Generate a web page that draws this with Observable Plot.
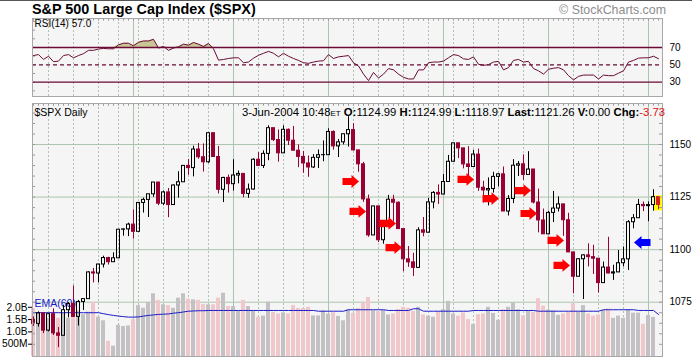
<!DOCTYPE html>
<html><head><meta charset="utf-8">
<script src="https://cdn.jsdelivr.net/npm/d3@7"></script>
<script src="https://cdn.jsdelivr.net/npm/@observablehq/plot@0.6"></script>
<style>
body{margin:0;background:#fff;}
#root{position:relative;width:692px;height:358px;overflow:hidden;background:#fff;font-family:"Liberation Sans",Arial,sans-serif;}
.abs{position:absolute;}
.abs svg{display:block;}
</style></head><body><div id="root"></div>
<script>
// ---------- DATA ----------
const dates = [
"2003-12-03","2003-12-04","2003-12-05","2003-12-08","2003-12-09","2003-12-10","2003-12-11","2003-12-12","2003-12-15","2003-12-16","2003-12-17","2003-12-18","2003-12-19","2003-12-22","2003-12-23","2003-12-24","2003-12-26","2003-12-29","2003-12-30","2003-12-31",
"2004-01-02","2004-01-05","2004-01-06","2004-01-07","2004-01-08","2004-01-09","2004-01-12","2004-01-13","2004-01-14","2004-01-15","2004-01-16","2004-01-20","2004-01-21","2004-01-22","2004-01-23","2004-01-26","2004-01-27","2004-01-28","2004-01-29","2004-01-30",
"2004-02-02","2004-02-03","2004-02-04","2004-02-05","2004-02-06","2004-02-09","2004-02-10","2004-02-11","2004-02-12","2004-02-13","2004-02-17","2004-02-18","2004-02-19","2004-02-20","2004-02-23","2004-02-24","2004-02-25","2004-02-26","2004-02-27",
"2004-03-01","2004-03-02","2004-03-03","2004-03-04","2004-03-05","2004-03-08","2004-03-09","2004-03-10","2004-03-11","2004-03-12","2004-03-15","2004-03-16","2004-03-17","2004-03-18","2004-03-19","2004-03-22","2004-03-23","2004-03-24","2004-03-25","2004-03-26","2004-03-29","2004-03-30","2004-03-31",
"2004-04-01","2004-04-02","2004-04-05","2004-04-06","2004-04-07","2004-04-08","2004-04-12","2004-04-13","2004-04-14","2004-04-15","2004-04-16","2004-04-19","2004-04-20","2004-04-21","2004-04-22","2004-04-23","2004-04-26","2004-04-27","2004-04-28","2004-04-29","2004-04-30",
"2004-05-03","2004-05-04","2004-05-05","2004-05-06","2004-05-07","2004-05-10","2004-05-11","2004-05-12","2004-05-13","2004-05-14","2004-05-17","2004-05-18","2004-05-19","2004-05-20","2004-05-21","2004-05-24","2004-05-25","2004-05-26","2004-05-27","2004-05-28",
"2004-06-01","2004-06-02","2004-06-03"];

const closes = [
1064.73,1069.72,1061.50,1069.30,1060.18,1059.05,1071.21,1074.14,1068.04,1075.13,1076.48,1089.18,1088.66,1092.94,1096.02,1094.04,1095.89,1109.48,1109.64,1111.92,
1108.48,1122.22,1123.67,1126.33,1131.92,1121.86,1127.23,1121.22,1130.52,1132.05,1139.83,1138.77,1147.62,1143.94,1141.55,1155.37,1144.05,1128.48,1134.11,1131.13,
1135.26,1136.03,1126.52,1128.59,1142.76,1139.81,1145.54,1157.76,1152.11,1145.81,1156.99,1151.82,1147.06,1144.11,1140.99,1139.09,1143.67,1144.91,1144.94,
1155.97,1149.10,1151.03,1154.87,1156.86,1147.20,1140.58,1123.89,1106.78,1120.57,1104.49,1110.70,1123.75,1122.32,1109.78,1095.40,1093.95,1091.33,1109.19,1108.06,1122.47,1127.00,1126.21,
1132.17,1141.81,1150.57,1148.16,1140.53,1139.32,1145.20,1129.44,1128.17,1128.84,1134.61,1135.82,1118.15,1124.09,1139.93,1140.60,1135.53,1138.11,1122.41,1113.89,1107.30,
1117.49,1119.55,1121.53,1113.99,1098.70,1087.12,1095.45,1097.28,1096.44,1095.70,1084.10,1091.49,1088.68,1089.19,1093.56,1095.41,1113.05,1114.94,1121.28,1120.68,
1121.20,1124.99,1121.26];

const opens = [
1066.62,1064.73,1069.72,1061.50,1069.30,1060.18,1059.05,1071.21,1074.14,1068.04,1075.13,1076.48,1089.18,1088.66,1092.94,1096.02,1094.04,1095.89,1109.48,1109.64,
1111.92,1108.48,1122.22,1123.67,1126.33,1131.92,1121.86,1127.23,1121.22,1130.52,1132.05,1139.83,1138.77,1147.62,1143.94,1141.55,1155.37,1144.05,1128.48,1134.11,
1131.13,1135.26,1136.03,1126.52,1128.59,1142.76,1139.81,1145.54,1157.76,1152.11,1145.81,1156.99,1151.82,1147.06,1144.11,1140.99,1139.09,1143.67,1144.91,
1144.94,1155.97,1149.10,1151.03,1154.87,1156.86,1147.20,1140.58,1123.89,1106.78,1120.57,1104.49,1110.70,1123.75,1122.32,1109.78,1095.40,1093.95,1091.33,1109.19,1108.06,1122.47,1127.00,
1126.21,1132.17,1141.81,1150.57,1148.16,1140.53,1139.32,1145.20,1129.44,1128.17,1128.84,1134.61,1135.82,1118.15,1124.09,1139.93,1140.60,1135.53,1138.11,1122.41,1113.89,
1107.30,1117.49,1119.55,1121.53,1113.99,1098.70,1087.12,1095.45,1097.28,1096.44,1095.70,1084.10,1091.49,1088.68,1089.19,1093.56,1095.41,1113.05,1114.94,1121.28,
1120.68,1121.20,1124.99];

const highs = [
1068.0,1070.4,1069.9,1069.6,1071.9,1063.0,1073.6,1074.8,1082.8,1075.9,1076.5,1089.5,1091.1,1092.9,1096.9,1096.4,1098.5,1109.5,1109.8,1112.6,
1118.85,1122.4,1124.5,1126.3,1131.9,1132.0,1127.9,1129.1,1130.8,1137.1,1139.8,1142.9,1149.2,1150.5,1150.3,1155.4,1155.4,1149.1,1134.4,1135.5,
1142.8,1137.4,1136.1,1131.2,1143.2,1146.2,1147.0,1158.9,1157.8,1156.9,1158.9,1157.4,1158.6,1149.8,1146.7,1144.5,1145.2,1147.4,1151.7,
1157.5,1156.5,1152.4,1154.97,1163.2,1159.9,1147.3,1141.5,1125.96,1120.6,1120.6,1113.8,1125.8,1125.8,1122.7,1109.8,1101.5,1098.3,1110.4,1115.3,1124.4,1127.6,1130.8,
1135.7,1144.8,1150.6,1150.6,1148.2,1148.97,1147.3,1147.8,1132.5,1134.1,1136.8,1136.2,1139.3,1125.7,1142.8,1141.9,1145.1,1146.6,1138.2,1128.8,1119.3,
1118.2,1127.7,1125.1,1121.6,1117.3,1098.7,1095.7,1097.6,1102.8,1102.1,1095.7,1094.1,1105.9,1092.6,1099.6,1101.3,1113.8,1116.7,1123.9,1122.7,
1122.7,1128.5,1124.99];

const lows = [
1063.5,1063.2,1060.1,1060.9,1059.2,1053.4,1059.0,1067.6,1068.0,1063.7,1071.1,1076.4,1084.2,1084.2,1091.3,1092.7,1094.0,1095.8,1106.4,1106.2,
1105.1,1108.4,1117.4,1115.3,1124.9,1120.9,1120.9,1115.2,1121.2,1124.5,1132.0,1135.4,1134.6,1143.0,1136.9,1141.0,1144.0,1126.5,1122.4,1126.9,
1127.9,1131.3,1124.7,1124.4,1128.3,1139.6,1138.6,1142.3,1151.4,1141.6,1145.8,1149.5,1146.9,1139.0,1136.3,1134.4,1138.6,1138.6,1141.8,
1144.9,1147.3,1143.8,1149.8,1148.8,1146.9,1136.8,1122.5,1105.9,1106.7,1103.4,1102.6,1110.7,1113.3,1109.7,1089.5,1091.6,1087.2,1091.3,1106.1,1108.0,1119.4,1121.5,
1126.2,1132.1,1141.6,1143.3,1138.4,1134.5,1139.3,1127.7,1122.1,1120.8,1126.9,1129.8,1118.1,1116.0,1121.9,1134.8,1132.9,1135.5,1121.7,1108.0,1107.2,
1107.3,1112.9,1117.9,1106.3,1098.6,1079.0,1087.1,1076.3,1091.8,1088.2,1079.4,1084.1,1088.5,1085.4,1089.1,1091.8,1090.1,1109.9,1114.9,1118.1,
1113.3,1118.3,1118.97];

// volume in billions of shares
const volumes = [
1.95,1.75,1.65,1.55,1.80,1.55,1.75,1.55,1.95,1.85,1.70,1.80,2.20,1.60,1.45,0.62,0.42,1.27,1.22,1.24,
1.50,2.07,1.96,2.20,2.55,2.28,2.10,2.07,1.96,2.37,2.55,2.33,2.30,2.28,2.12,2.10,2.10,2.37,2.57,2.03,
2.03,1.84,2.28,2.03,1.84,1.60,1.64,2.21,1.80,1.73,1.77,1.73,2.07,1.95,1.95,2.00,1.65,1.65,1.85,
1.72,1.78,1.63,1.45,1.90,1.75,1.95,2.20,2.40,1.85,1.82,1.87,1.69,1.73,1.91,2.00,1.96,1.84,2.00,1.69,1.64,1.60,1.82,
1.90,2.24,1.73,1.64,1.77,1.50,1.30,1.70,1.73,2.00,1.75,1.47,1.90,2.00,2.17,1.90,1.65,1.85,1.80,2.35,2.05,
1.88,1.85,1.67,1.73,1.80,2.14,1.80,2.07,1.73,1.64,1.69,1.87,1.93,1.55,1.64,1.55,1.90,1.76,1.76,1.31,
1.67,1.59,0];

const ema60 = [
1.78,1.78,1.78,1.78,1.78,1.78,1.78,1.78,1.78,1.78,1.78,1.78,1.78,1.78,
1.74,1.70,1.67,1.64,1.62,1.60,1.60,1.61,1.64,1.67,1.69,1.71,1.72,1.73,1.76,1.78,1.81,1.84,1.85,1.86,1.86,1.87,
1.87,1.87,1.87,1.87,1.87,1.87,1.87,1.87,1.87,1.87,1.87,1.87,1.87,1.87,1.87,1.87,1.87,1.87,1.87,1.87,1.87,
1.84,1.84,1.84,1.84,1.84,1.84,
1.90,1.90,1.90,1.90,1.90,1.90,1.90,1.90,
1.87,1.87,1.87,1.87,1.87,
1.94,1.94,
1.84,1.84,1.84,1.84,1.84,1.84,1.84,1.84,1.84,1.84,
1.87,1.87,1.87,1.87,1.87,1.87,1.87,1.87,1.87,1.87,1.87,1.87,1.87,
1.84,1.84,1.84,1.84,1.84,1.84,1.84,1.84,1.84,1.84,1.84,1.84,1.84,
1.90,1.90,1.90,1.90,1.90,1.90,1.90,
1.87,1.87,1.87,1.87,
1.71];

const rsi14 = [
60.7,61.8,56.2,59.9,53.6,54.3,60.7,61.8,58.1,60.7,62.9,66.7,66.7,68.2,68.9,68.5,68.5,73.0,74.9,74.9,
71.9,76.0,77.5,77.5,79.4,69.3,71.2,66.7,69.3,70.8,73.8,72.7,75.7,73.8,71.2,74.5,68.5,55.4,56.2,57.3,
58.1,58.1,52.4,53.2,57.7,61.0,63.3,65.5,63.3,59.2,63.3,59.9,57.3,55.1,52.4,51.7,53.2,54.3,54.7,
61.8,57.3,59.2,59.9,60.7,52.4,48.7,39.3,31.8,41.2,34.8,39.3,45.7,44.2,39.3,35.6,33.7,33.7,44.2,44.2,52.4,53.2,53.2,
54.3,58.1,61.8,60.7,56.9,56.2,59.2,50.6,49.4,50.2,53.2,54.0,44.2,46.8,55.1,56.2,53.2,54.0,45.7,43.1,39.3,
44.9,46.1,46.8,44.2,37.5,32.6,36.7,38.2,38.2,38.2,33.7,38.2,37.5,37.5,40.4,43.1,53.2,55.1,57.7,58.1,
58.1,59.9,57.0];

const priceTicks = [1075, 1100, 1125, 1150];
const rsiLevels = [30, 50, 70];
const volumeTicks = [0.5, 1, 1.5, 2];
const volumeTickLabels = ["500M", "1.0B", "1.5B", "2.0B"];

// annotation arrows (trading-day index, price level)
const arrowDay   = [63.4, 64.8, 70.8, 72.0, 86.4, 91.4, 97.8, 99.0, 104.4, 105.6, 121.8];
const arrowPrice = [1132.4,1118.2,1112.5,1101.0,1133.4,1124.3,1128.1,1117.2,1104.4,1092.5,1103.4];
const arrowDir   = ["right","right","right","right","right","right","right","right","right","right","left"];

// ---------- LAYOUT ----------
const W = 692, ML = 32, MR = 30;
const n = dates.length;
const xDomain = [-0.2, n - 0.2];
const font = '"Liberation Sans", Arial, sans-serif';
const grid = "#adc5ad";
const maroon = "#6b0a35";
const candleRed = "#990033";

const rows = d3.range(n).map(i => ({i, date: new Date(dates[i] + "T12:00:00"), o: opens[i], h: highs[i], l: lows[i], c: closes[i], v: volumes[i], e: ema60[i], r: rsi14[i]}));
rows.forEach((d, i) => { d.down = i === 0 ? d.c < d.o : d.c < closes[i - 1]; d.last = i === n - 1; });

// month-start and week-start grid positions derived from dates
const monthIdx = [], weekIdx = [];
for (let i = 1; i < n; i++) {
  const a = rows[i - 1].date, b = rows[i].date;
  if (b.getMonth() !== a.getMonth()) monthIdx.push(i);
  else if (b.getDay() < a.getDay()) weekIdx.push(i);
}

const root = document.getElementById("root");
function place(el, top) {
  const d = document.createElement("div");
  d.className = "abs"; d.style.left = "0px"; d.style.top = top + "px";
  d.appendChild(el); root.appendChild(d); return d;
}
function html(str, style) {
  const d = document.createElement("div");
  d.className = "abs"; d.innerHTML = str; Object.assign(d.style, style);
  root.appendChild(d); return d;
}

const baseStyle = {background: "transparent", fontFamily: font, fontSize: "10px", color: "#000", overflow: "visible"};

function arrowSymbol(dir) {
  return {draw(ctx, size) {
    const t = Math.sqrt(size / Math.PI) / 8, s = t * dir;
    ctx.moveTo(-8 * s, -3.6 * t);
    ctx.lineTo(1 * s, -3.6 * t);
    ctx.lineTo(1 * s, -6.4 * t);
    ctx.lineTo(8.5 * s, 0);
    ctx.lineTo(1 * s, 6.4 * t);
    ctx.lineTo(1 * s, 3.6 * t);
    ctx.lineTo(-8 * s, 3.6 * t);
    ctx.closePath();
  }};
}
const arrows = arrowDay.map((x, k) => ({x, p: arrowPrice[k], dir: arrowDir[k]}));

// ---------- RSI PANEL ----------
const rsiDomain = [13.5, 103.4];
const rsiPlot = Plot.plot({
  width: W, height: 86, marginLeft: ML, marginRight: MR, marginTop: 3, marginBottom: 5,
  x: {domain: xDomain, axis: null},
  y: {domain: rsiDomain, axis: null},
  style: baseStyle,
  marks: [
    Plot.frame({fill: "#f5f5f5", stroke: null}),
    Plot.ruleX(monthIdx, {stroke: grid, strokeWidth: 1}),
    Plot.ruleX(weekIdx, {stroke: grid, strokeDasharray: "2,2"}),
    Plot.ruleX(d3.range(n), {y1: rsiDomain[1], y2: rsiDomain[1] - 3, stroke: "#999"}),
    Plot.ruleY(d3.range(20, 101, 10), {x1: xDomain[0], x2: xDomain[0] + 0.6, stroke: "#999"}),
    Plot.areaY(rows, {x: "i", y1: 70, y2: d => Math.max(70, d.r), fill: "#c9c796"}),
    Plot.ruleY([30, 70], {stroke: maroon, strokeWidth: 1.3}),
    Plot.ruleY([50], {stroke: maroon, strokeWidth: 1.3, strokeDasharray: "4,3"}),
    Plot.line(rows, {x: "i", y: "r", stroke: maroon, strokeWidth: 1}),
    Plot.axisY({anchor: "right", ticks: rsiLevels, label: null, tickSize: 0, tickPadding: 7, fontSize: 10, tickFormat: "d"}),
    Plot.text([`RSI(14) ${rsi14[n - 1].toFixed(1)}`], {frameAnchor: "top-left", dx: 2, dy: 1, fontSize: 10, fill: "#000"}),
    Plot.frame({stroke: "#a8a8a8"})
  ]
});
place(rsiPlot, 15);

// ---------- PRICE PANEL (3 layers) ----------
const priceDomain = [1049.2, 1169.5];
const panelH = 258, mTop = 3, mBot = 2;

const gridLayer = Plot.plot({
  width: W, height: panelH, marginLeft: ML, marginRight: MR, marginTop: mTop, marginBottom: mBot,
  x: {domain: xDomain, axis: null}, y: {domain: priceDomain, axis: null},
  style: baseStyle,
  marks: [
    Plot.frame({fill: "#f5f5f5", stroke: null}),
    Plot.ruleY(priceTicks, {stroke: grid}),
    Plot.ruleX(monthIdx, {stroke: grid}),
    Plot.ruleX(weekIdx, {stroke: grid, strokeDasharray: "2,2"})
  ]
});
place(gridLayer, 100);

const volLayer = Plot.plot({
  width: W, height: panelH, marginLeft: ML, marginRight: MR, marginTop: mTop, marginBottom: mBot,
  x: {domain: xDomain, axis: null}, y: {domain: [0, 10.28], axis: null},
  style: baseStyle,
  marks: [
    Plot.rect(rows.filter(d => d.v > 0), {x1: d => d.i - 0.4, x2: d => d.i + 0.4, y1: 0, y2: "v", fill: d => d.down ? "#f0c8cb" : "#c3c1c4"}),
    Plot.line(rows, {x: "i", y: "e", stroke: "#1a1acc", strokeWidth: 1}),
    Plot.axisY({anchor: "left", ticks: volumeTicks, label: null, tickFormat: d => volumeTickLabels[volumeTicks.indexOf(d)], tickSize: 4, tickPadding: 1, fontSize: 10.2}),
    Plot.text(["EMA(60)"], {frameAnchor: "bottom-left", dx: 2, dy: -50, fontSize: 10.5, fill: "#1a1acc", textAnchor: "start"})
  ]
});
place(volLayer, 100);

const colorOf = d => d.last ? "#d81e1e" : (d.down ? candleRed : "#000");
const candleLayer = Plot.plot({
  width: W, height: panelH, marginLeft: ML, marginRight: MR, marginTop: mTop, marginBottom: mBot,
  x: {domain: xDomain, axis: null}, y: {domain: priceDomain, axis: null},
  style: baseStyle,
  marks: [
    Plot.rect(rows.filter(d => d.last), {x1: d => d.i - 0.85, x2: d => d.i + 0.85, y1: d => d.l - 0.5, y2: d => d.h + 0.6, fill: "#ffff00"}),
    Plot.ruleX(rows, {x: "i", y1: d => Math.max(d.o, d.c), y2: "h", stroke: colorOf}),
    Plot.ruleX(rows, {x: "i", y1: "l", y2: d => Math.min(d.o, d.c), stroke: colorOf}),
    Plot.rect(rows, {x1: d => d.i - 0.3, x2: d => d.i + 0.3, y1: "o", y2: "c", fill: d => d.c > d.o ? "none" : colorOf(d), stroke: colorOf, strokeWidth: 1}),
    Plot.ruleX(d3.range(n), {y1: priceDomain[1], y2: priceDomain[1] - 1.3, stroke: "#999"}),
    Plot.ruleY(d3.range(1055, 1170, 5), {x1: xDomain[0], x2: xDomain[0] + 0.6, stroke: "#999"}),
    Plot.ruleY(d3.range(1055, 1170, 5), {x1: xDomain[1] - 0.6, x2: xDomain[1], stroke: "#999"}),
    Plot.dot(arrows.filter(a => a.dir === "right"), {x: "x", y: "p", r: 8, symbol: arrowSymbol(1), fill: "#ff0000", stroke: null}),
    Plot.dot(arrows.filter(a => a.dir === "left"), {x: "x", y: "p", r: 8, symbol: arrowSymbol(-1), fill: "#0000ff", stroke: null}),
    Plot.axisY({anchor: "right", ticks: priceTicks, label: null, tickSize: 0, tickPadding: 7, fontSize: 10, tickFormat: "d"}),
    Plot.text(["$SPX Daily"], {frameAnchor: "top-left", dx: 2, dy: 5, fontSize: 10.5, fill: "#000"}),
    Plot.frame({stroke: "#a8a8a8"})
  ]
});
place(candleLayer, 100);

// ---------- HTML TEXT ----------
root.insertAdjacentHTML("afterbegin", '<div class="abs" style="left:0;top:0;width:692px;height:1px;background:#555"></div>');
html("S&amp;P 500 Large Cap Index ($SPX)", {left: "32px", top: "2px", fontSize: "14.4px", fontWeight: "bold", lineHeight: "15px", whiteSpace: "nowrap"});
html("© StockCharts.com", {right: "26px", top: "3px", fontSize: "12.4px", color: "#8c8c8c", lineHeight: "14px", whiteSpace: "nowrap"});
const L = n - 1;
const chg = closes[L] - closes[L - 1];
html(`3-Jun-2004 10:48<span style="font-size:8px">ET</span> <b>O:</b>${opens[L].toFixed(2)} <b>H:</b>${highs[L].toFixed(2)} <b>L:</b>${lows[L].toFixed(2)} <b>Last:</b>${closes[L].toFixed(2)} <b>V:</b>0.00 <b>Chg:</b><span style="color:#e01010">${chg.toFixed(2)}</span>`,
  {right: "27px", top: "106px", fontSize: "11.3px", lineHeight: "13px", whiteSpace: "nowrap"});
</script>
</body></html>
